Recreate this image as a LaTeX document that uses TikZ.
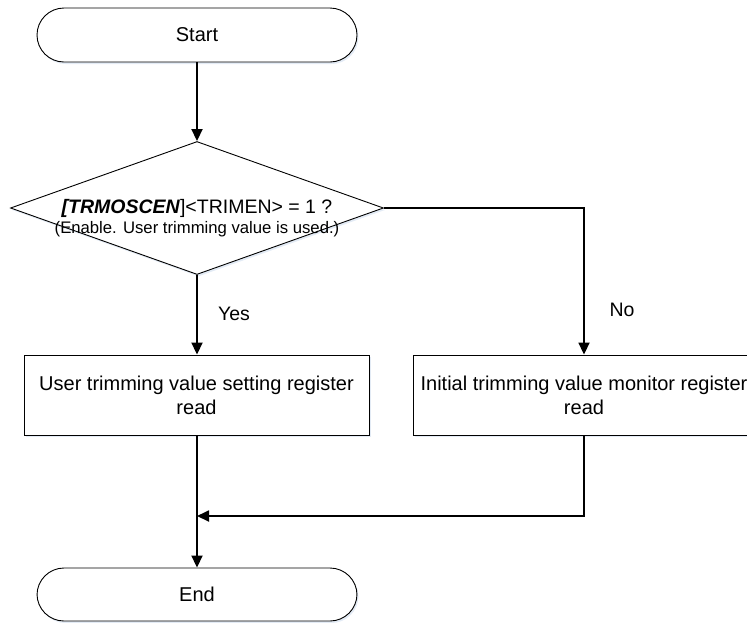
\documentclass[tikz,border=0pt]{standalone}
\usepackage{fontspec}
\setmainfont{Liberation Sans}
\usetikzlibrary{arrows.meta,shadows,shapes.geometric}
\begin{document}
\begin{tikzpicture}[x=1pt,y=-1pt,
  shade/.style={drop shadow={shadow xshift=1.5pt,shadow yshift=-2pt,fill={rgb,255:red,200;green,215;blue,235},opacity=0.5}},
  base/.style={draw=black, line width=0.9pt, fill=white, shade, font=\fontsize{20}{24}\selectfont, align=center, inner sep=0pt},
  term/.style={base, rounded corners=27pt, minimum width=320pt, minimum height=54pt},
  proc/.style={base, minimum width=345pt, minimum height=80pt},
  dia/.style={base, diamond, minimum width=373pt, minimum height=133pt},
  conn/.style={line width=1.8pt, -{Triangle[length=12pt,width=11pt]}},
  lbl/.style={font=\fontsize{19.5}{24}\selectfont, inner sep=0pt}]
\useasboundingbox (0,0) rectangle (747,622);
\node[term] (start) at (197,35) {Start};
\node[dia] (dec) at (197,208) {};
\node[lbl, anchor=base] (dt1) at (197,213) {\textbf{\textit{[TRMOSCEN}}]<TRIMEN> = 1 ?};
\node[lbl, anchor=base, font=\fontsize{16.7}{20}\selectfont] (dt2) at (197,233) {(Enable. User trimming value is used.)};
\node[proc] (ubox) at (196.5,395) {User trimming value setting register\\read};
\node[proc, minimum width=342pt] (ibox) at (584,395) {Initial trimming value monitor register\\read};
\node[term, minimum height=53pt] (end) at (197,594.5) {End};
\coordinate (join) at (197,516);
\draw[conn] (start) -- (dec);
\draw[conn] (dec.south) -- (dec.south |- ubox.north);
\draw[conn] (dec.east) -| (ibox.north);
\draw[conn] (ubox.south -| end.north) -- (end.north);
\draw[conn] (ibox.south) |- (join);
\node[lbl] (yes) at (234,314) {Yes};
\node[lbl] (no) at (622,310) {No};
\end{tikzpicture}
\end{document}
